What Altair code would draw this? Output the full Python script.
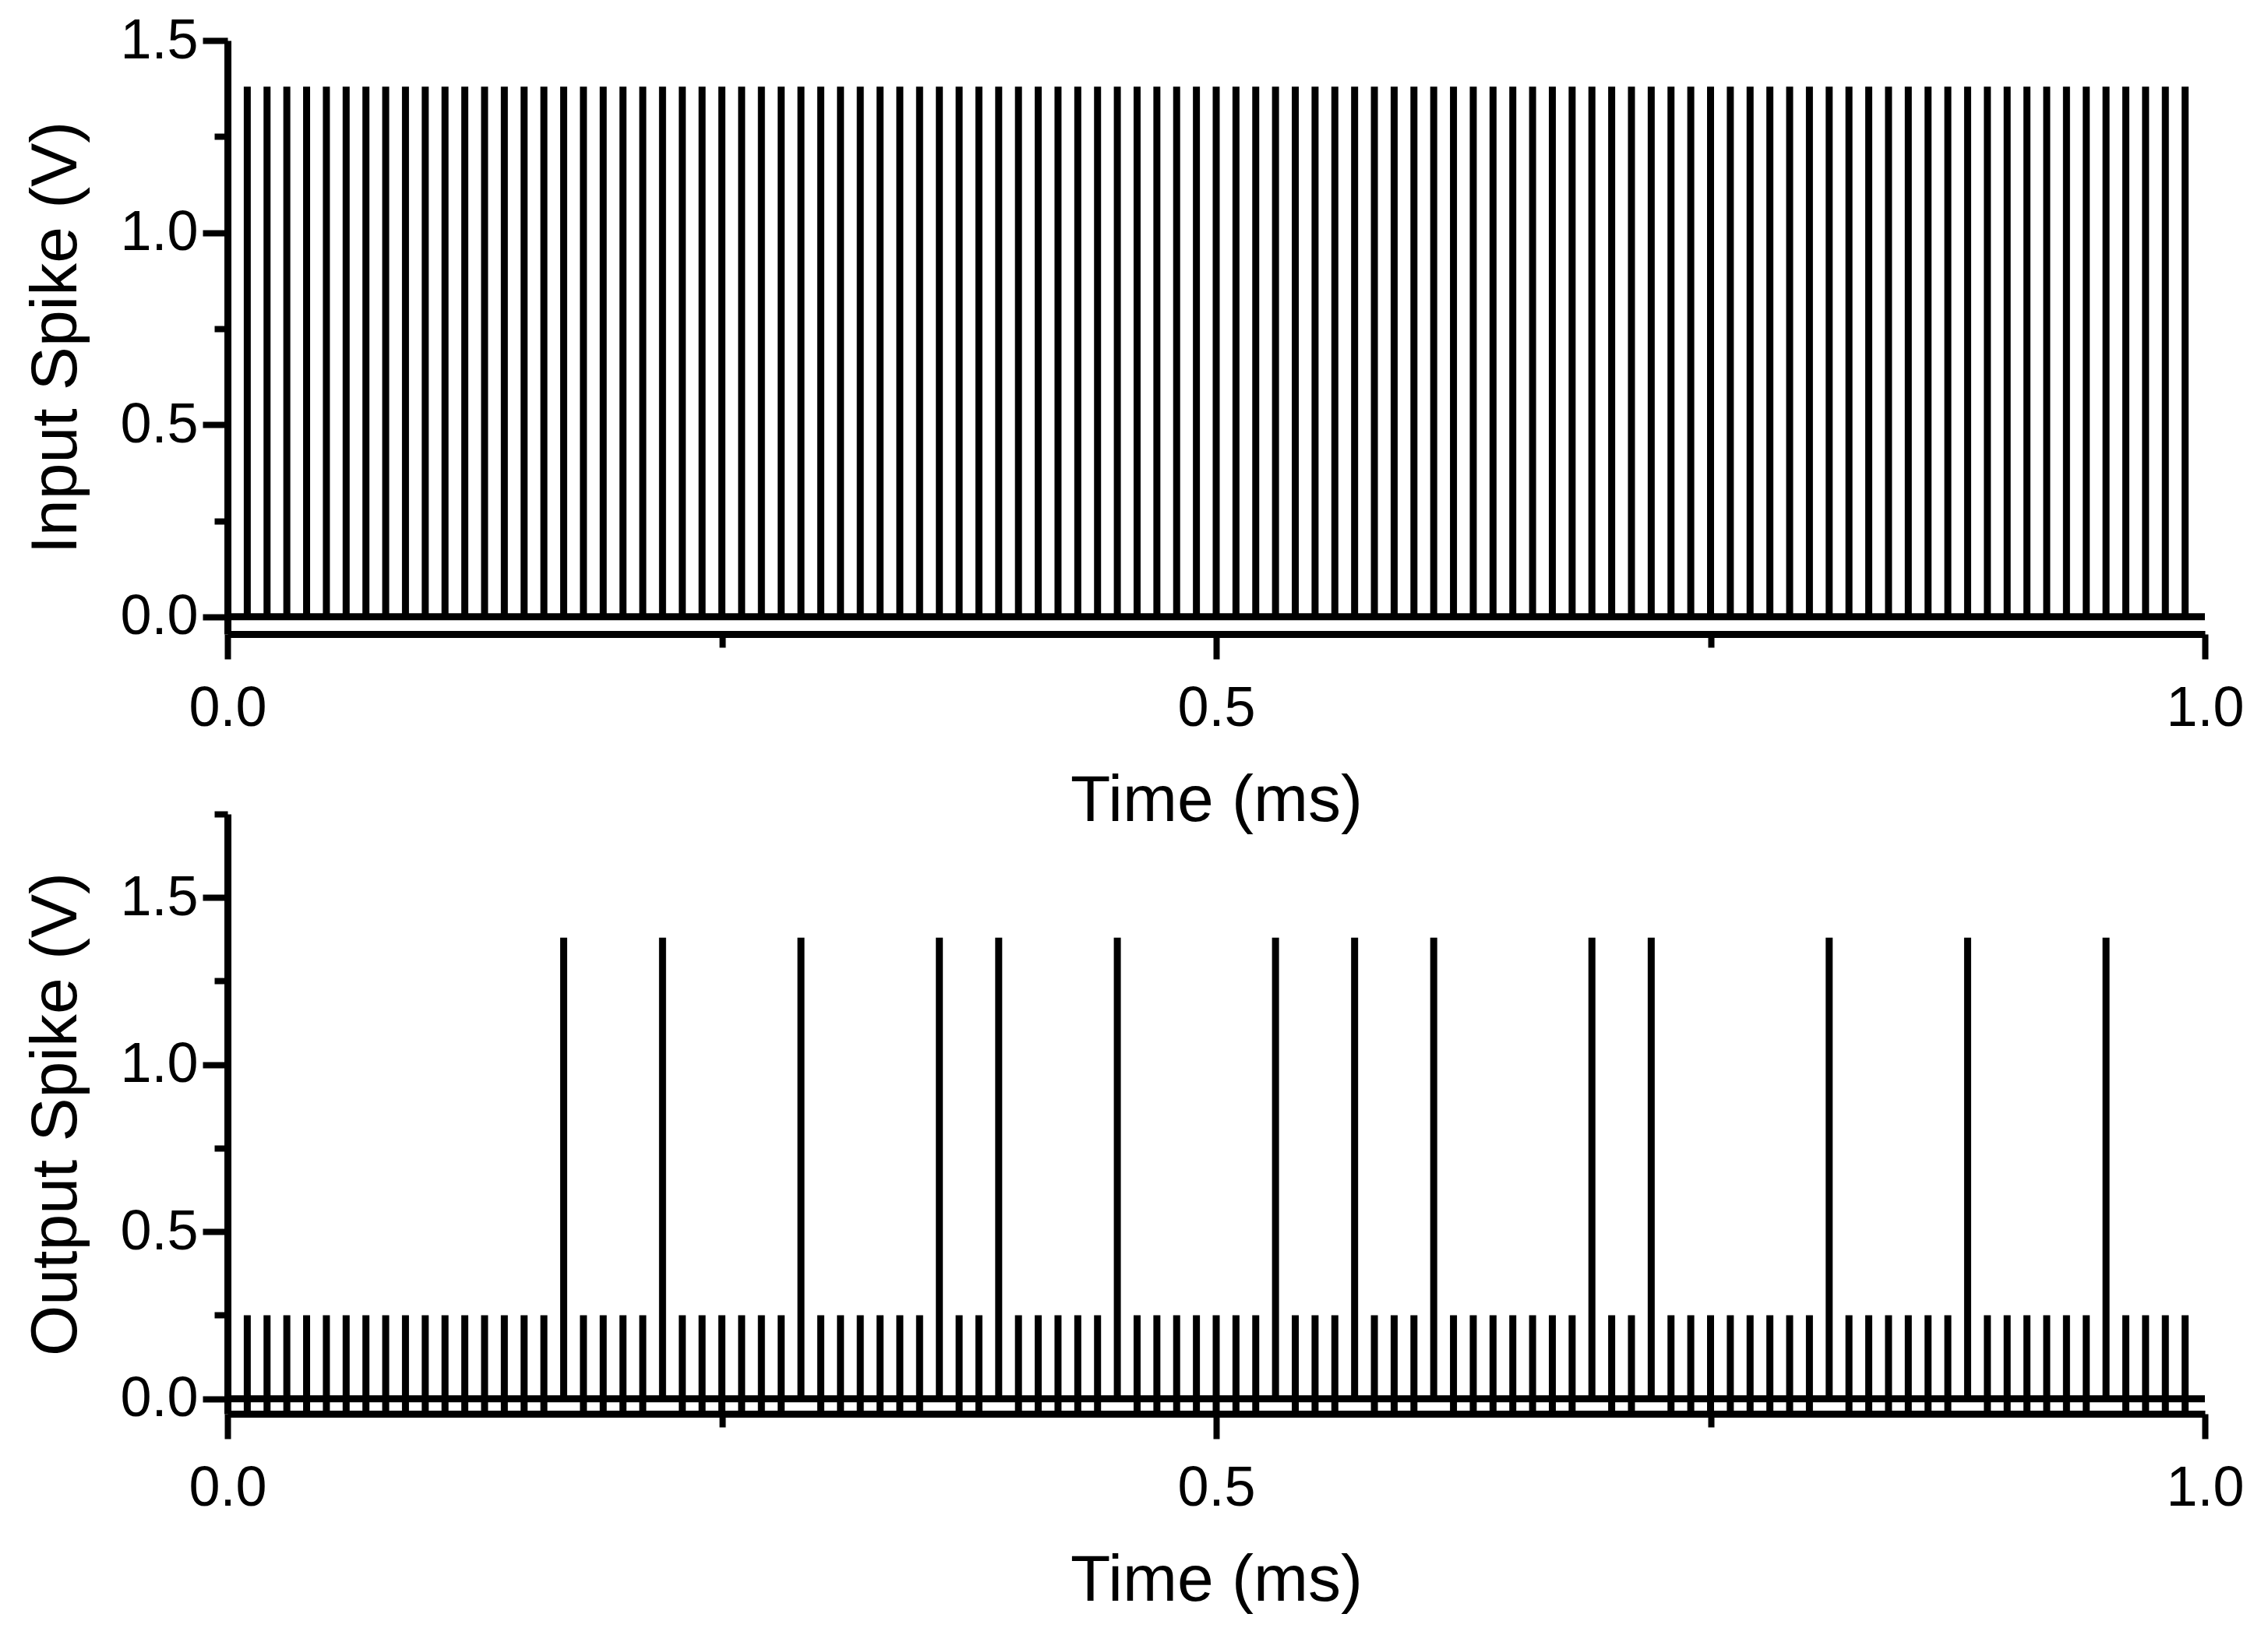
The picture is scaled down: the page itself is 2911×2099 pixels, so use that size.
import altair as alt
import pandas as pd

# ---------------- data ----------------
spike_times_ms = [
    0.01, 0.02, 0.03, 0.04, 0.05, 0.06, 0.07, 0.08, 0.09, 0.10,
    0.11, 0.12, 0.13, 0.14, 0.15, 0.16, 0.17, 0.18, 0.19, 0.20,
    0.21, 0.22, 0.23, 0.24, 0.25, 0.26, 0.27, 0.28, 0.29, 0.30,
    0.31, 0.32, 0.33, 0.34, 0.35, 0.36, 0.37, 0.38, 0.39, 0.40,
    0.41, 0.42, 0.43, 0.44, 0.45, 0.46, 0.47, 0.48, 0.49, 0.50,
    0.51, 0.52, 0.53, 0.54, 0.55, 0.56, 0.57, 0.58, 0.59, 0.60,
    0.61, 0.62, 0.63, 0.64, 0.65, 0.66, 0.67, 0.68, 0.69, 0.70,
    0.71, 0.72, 0.73, 0.74, 0.75, 0.76, 0.77, 0.78, 0.79, 0.80,
    0.81, 0.82, 0.83, 0.84, 0.85, 0.86, 0.87, 0.88, 0.89, 0.90,
    0.91, 0.92, 0.93, 0.94, 0.95, 0.96, 0.97, 0.98, 0.99,
]

input_peak_v = [
    1.38, 1.38, 1.38, 1.38, 1.38, 1.38, 1.38, 1.38, 1.38, 1.38,
    1.38, 1.38, 1.38, 1.38, 1.38, 1.38, 1.38, 1.38, 1.38, 1.38,
    1.38, 1.38, 1.38, 1.38, 1.38, 1.38, 1.38, 1.38, 1.38, 1.38,
    1.38, 1.38, 1.38, 1.38, 1.38, 1.38, 1.38, 1.38, 1.38, 1.38,
    1.38, 1.38, 1.38, 1.38, 1.38, 1.38, 1.38, 1.38, 1.38, 1.38,
    1.38, 1.38, 1.38, 1.38, 1.38, 1.38, 1.38, 1.38, 1.38, 1.38,
    1.38, 1.38, 1.38, 1.38, 1.38, 1.38, 1.38, 1.38, 1.38, 1.38,
    1.38, 1.38, 1.38, 1.38, 1.38, 1.38, 1.38, 1.38, 1.38, 1.38,
    1.38, 1.38, 1.38, 1.38, 1.38, 1.38, 1.38, 1.38, 1.38, 1.38,
    1.38, 1.38, 1.38, 1.38, 1.38, 1.38, 1.38, 1.38, 1.38,
]

output_peak_v = [
    0.25, 0.25, 0.25, 0.25, 0.25, 0.25, 0.25, 0.25, 0.25, 0.25,
    0.25, 0.25, 0.25, 0.25, 0.25, 0.25, 1.38, 0.25, 0.25, 0.25,
    0.25, 1.38, 0.25, 0.25, 0.25, 0.25, 0.25, 0.25, 1.38, 0.25,
    0.25, 0.25, 0.25, 0.25, 0.25, 1.38, 0.25, 0.25, 1.38, 0.25,
    0.25, 0.25, 0.25, 0.25, 1.38, 0.25, 0.25, 0.25, 0.25, 0.25,
    0.25, 0.25, 1.38, 0.25, 0.25, 0.25, 1.38, 0.25, 0.25, 0.25,
    1.38, 0.25, 0.25, 0.25, 0.25, 0.25, 0.25, 0.25, 1.38, 0.25,
    0.25, 1.38, 0.25, 0.25, 0.25, 0.25, 0.25, 0.25, 0.25, 0.25,
    1.38, 0.25, 0.25, 0.25, 0.25, 0.25, 0.25, 1.38, 0.25, 0.25,
    0.25, 0.25, 0.25, 0.25, 1.38, 0.25, 0.25, 0.25, 0.25,
]

subthreshold_undershoot_v = -0.04   # small output pulses dip slightly below 0 V
baseline_v = [0.0]
baseline_start_ms = [0.0]
baseline_end_ms = [1.0]

x_major_ticks = [0.0, 0.5, 1.0]
x_minor_ticks = [0.25, 0.75]
y_top_major = [0.0, 0.5, 1.0, 1.5]
y_top_minor = [0.25, 0.75, 1.25]
y_bot_major = [0.0, 0.5, 1.0, 1.5]
y_bot_minor = [0.25, 0.75, 1.25, 1.75]

# ---------------- tables ----------------
df_in = pd.DataFrame({"t": spike_times_ms, "lo": [0.0] * len(spike_times_ms), "hi": input_peak_v})
df_out = pd.DataFrame({
    "t": spike_times_ms,
    "lo": [0.0 if p > 1.0 else subthreshold_undershoot_v for p in output_peak_v],
    "hi": output_peak_v,
})
df_base = pd.DataFrame({"t0": baseline_start_ms, "t1": baseline_end_ms, "v": baseline_v})

FONT = "Liberation Sans"
PLOT_W = 2538
TICK_MAJ = 32
TICK_MIN = 17


def panel(df, ydomain, ymajor, yminor, ytitle, height):
    xscale = alt.Scale(domain=[0.0, 1.0], nice=False, zero=False)
    yscale = alt.Scale(domain=ydomain, nice=False, zero=False)
    x_major = alt.Axis(values=x_major_ticks, format=".1f", title="Time (ms)",
                       tickSize=TICK_MAJ, labelPadding=28, titlePadding=42,
                       orient="bottom", labelOverlap=False, labelFlush=False,
                       grid=False)
    x_minor = alt.Axis(values=x_minor_ticks, labels=False, tickSize=TICK_MIN,
                       domain=False, title=None, orient="bottom", grid=False)
    y_major = alt.Axis(values=ymajor, format=".1f", title=ytitle,
                       tickSize=TICK_MAJ, labelPadding=6, titlePadding=38,
                       orient="left", labelOverlap=False, grid=False)
    y_minor = alt.Axis(values=yminor, labels=False, tickSize=TICK_MIN,
                       domain=False, title=None, orient="left", grid=False)

    spikes = alt.Chart(df).mark_rule(color="black", strokeWidth=9).encode(
        x=alt.X("t:Q", scale=xscale, axis=x_major),
        y=alt.Y("lo:Q", scale=yscale, axis=y_major),
        y2="hi:Q",
    )
    base = alt.Chart(df_base).mark_rule(color="black", strokeWidth=9).encode(
        x=alt.X("t0:Q", scale=xscale, axis=x_minor),
        x2="t1:Q",
        y=alt.Y("v:Q", scale=yscale, axis=y_minor),
    )
    return (
        alt.layer(spikes, base)
        .resolve_axis(x="independent", y="independent")
        .properties(width=PLOT_W, height=height)
    )


top = panel(df_in, [-0.045, 1.5], y_top_major, y_top_minor, "Input Spike (V)", 762)
bottom = panel(df_out, [-0.045, 1.75], y_bot_major, y_bot_minor, "Output Spike (V)", 770)

chart = (
    alt.vconcat(top, bottom, spacing=231, bounds="flush")
    .properties(padding={"left": 22, "top": 8, "right": 5, "bottom": 5},
                background="white")
    .configure_axis(
        labelFont=FONT, titleFont=FONT, labelFontSize=72, titleFontSize=84,
        labelColor="black", titleColor="black", titleFontWeight="normal",
        domainColor="black", tickColor="black", domainWidth=9, tickWidth=8,
        grid=False,
    )
    .configure_view(strokeWidth=0)
)

chart.save("out.html", embed_options={"renderer": "svg", "actions": False})
